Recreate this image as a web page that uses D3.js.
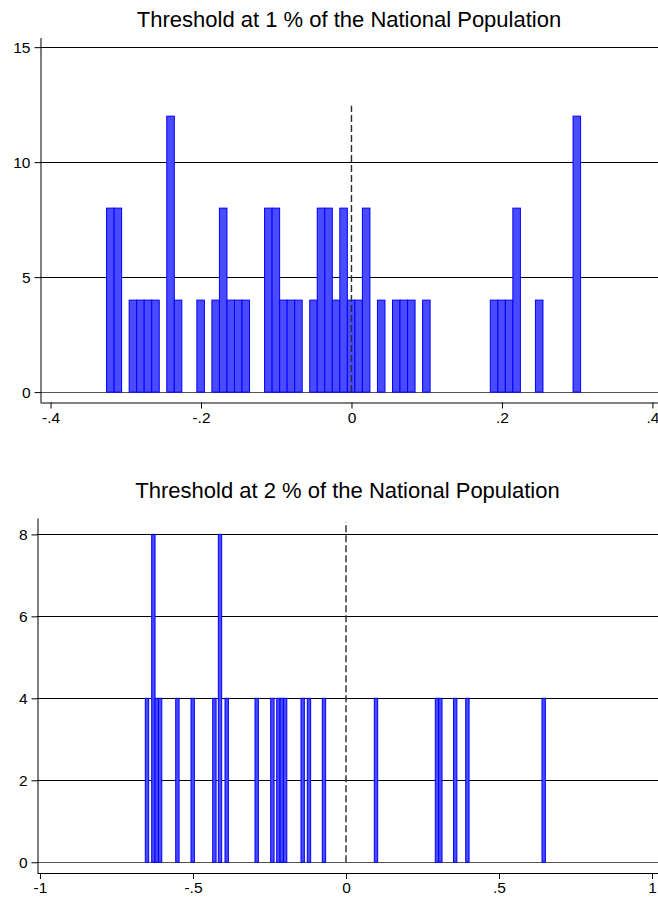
<!DOCTYPE html>
<html>
<head>
<meta charset="utf-8">
<script src="https://cdn.jsdelivr.net/npm/d3@7"></script>
<style>
  html, body { margin: 0; padding: 0; background: #fff; }
  svg { display: block; }
  text { font-family: "Liberation Sans", Arial, Helvetica, sans-serif; }
</style>
</head>
<body>
<script>
// ---------------- DATA ----------------
const titles = ["Threshold at 1 % of the National Population",
                "Threshold at 2 % of the National Population"];

// Panel 1: histogram bins (left edge) and heights
const topBinWidth = 0.01;
const topBinStarts = [-0.3255, -0.3155, -0.2955, -0.2855, -0.2755, -0.2655, -0.2455, -0.2355,
  -0.2055, -0.1855, -0.1755, -0.1655, -0.1555, -0.1455, -0.1155, -0.1055, -0.0955, -0.0855,
  -0.0755, -0.0555, -0.0455, -0.0355, -0.0255, -0.0155, -0.0055, 0.0045, 0.0145, 0.0345,
  0.0545, 0.0645, 0.0745, 0.0945, 0.1845, 0.1945, 0.2045, 0.2145, 0.2445, 0.2945];
const topCounts = [8, 8, 4, 4, 4, 4, 12, 4,
  4, 4, 8, 4, 4, 4, 8, 8, 4, 4,
  4, 4, 8, 8, 4, 8, 4, 4, 8, 4,
  4, 4, 4, 4, 4, 4, 4, 8, 4, 12];
const topYTicks = [0, 5, 10, 15];
const topXTicks = [-0.4, -0.2, 0, 0.2, 0.4];
const topXLabels = ["-.4", "-.2", "0", ".2", ".4"];
const topRefLine = [0, 12.45];

// Panel 2
const botBinWidth = 0.011;
const botBinStarts = [-0.6559, -0.635, -0.624, -0.613, -0.5565, -0.5065, -0.4356, -0.4173,
  -0.3954, -0.2974, -0.2461, -0.2265, -0.2155, -0.2045, -0.1471, -0.1265, -0.0775, 0.0925,
  0.2918, 0.3028, 0.3513, 0.3912, 0.6405];
const botCounts = [4, 8, 4, 4, 4, 4, 4, 8,
  4, 4, 4, 4, 4, 4, 4, 4, 4, 4,
  4, 4, 4, 4, 4];
const botYTicks = [0, 2, 4, 6, 8];
const botXTicks = [-1, -0.5, 0, 0.5, 1];
const botXLabels = ["-1", "-.5", "0", ".5", "1"];
const botRefLine = [0, 8.3];

// ---------------- DRAW ----------------
const W = 658, H = 899;
const svg = d3.select("body").append("svg").attr("width", W).attr("height", H);

const panels = [
  { title: titles[0], starts: topBinStarts, counts: topCounts, bw: topBinWidth,
    yTicks: topYTicks, xTicks: topXTicks, xLabels: topXLabels, ref: topRefLine,
    xDomain: [-0.414, 0.4074], xRange: [40, 658],
    yDomain: [-0.43, 15.42], yRange: [402, 37.5], titleY: 27 },
  { title: titles[1], starts: botBinStarts, counts: botCounts, bw: botBinWidth,
    yTicks: botYTicks, xTicks: botXTicks, xLabels: botXLabels, ref: botRefLine,
    xDomain: [-1.0098, 1.0196], xRange: [37, 658],
    yDomain: [-0.25, 8.4], yRange: [872.5, 518], titleY: 498 }
];

panels.forEach(p => {
  const x = d3.scaleLinear().domain(p.xDomain).range(p.xRange);
  const y = d3.scaleLinear().domain(p.yDomain).range(p.yRange);
  const g = svg.append("g");
  const left = p.xRange[0], right = p.xRange[1];

  // title
  g.append("text")
    .attr("x", (left + right) / 2)
    .attr("y", p.titleY)
    .attr("text-anchor", "middle")
    .attr("font-size", 22)
    .attr("fill", "#000")
    .text(p.title);

  // gridlines
  g.append("g").selectAll("line").data(p.yTicks).join("line")
    .attr("x1", left).attr("x2", right)
    .attr("y1", d => Math.round(y(d)) + 0.5).attr("y2", d => Math.round(y(d)) + 0.5)
    .attr("stroke", d => d === 0 ? "#555" : "#000")
    .attr("stroke-width", 1);

  // bars
  const y0 = y(0);
  g.append("g").selectAll("rect").data(p.starts.map((s, i) => ({ s, c: p.counts[i] })))
    .join("rect")
    .attr("x", d => x(d.s))
    .attr("width", d => x(d.s + p.bw) - x(d.s))
    .attr("y", d => y(d.c))
    .attr("height", d => y0 - y(d.c))
    .attr("fill", "#4a4aff")
    .attr("stroke", "#0000ff")
    .attr("stroke-width", 1);

  // dashed reference line at 0
  g.append("line")
    .attr("x1", x(0)).attr("x2", x(0))
    .attr("y1", y(p.ref[0])).attr("y2", y(p.ref[1]))
    .attr("stroke", "#2a2a2a")
    .attr("stroke-width", 1.4)
    .attr("stroke-dasharray", "7,3");

  // y axis
  const yAxis = d3.axisLeft(y).tickValues(p.yTicks).tickSize(6).tickSizeOuter(0).tickPadding(4)
    .tickFormat(d3.format("d"));
  const ya = g.append("g").attr("transform", `translate(${left + 0.5},0)`).call(yAxis);
  ya.selectAll("text").attr("font-size", 15.5).attr("fill", "#000")
    .style("font-family", '"Liberation Sans", Arial, sans-serif');
  ya.select(".domain").attr("stroke", "#000");
  ya.selectAll(".tick line").attr("stroke", "#000");

  // x axis
  const xAxis = d3.axisBottom(x).tickValues(p.xTicks).tickSize(6).tickSizeOuter(0).tickPadding(3)
    .tickFormat((d, i) => p.xLabels[i]);
  const xa = g.append("g").attr("transform", `translate(0,${p.yRange[0] + 0.5})`).call(xAxis);
  xa.selectAll("text").attr("font-size", 15.5).attr("fill", "#000")
    .style("font-family", '"Liberation Sans", Arial, sans-serif');
  xa.select(".domain").attr("stroke", "#000");
  xa.selectAll(".tick line").attr("stroke", "#000");
});
</script>
</body>
</html>
